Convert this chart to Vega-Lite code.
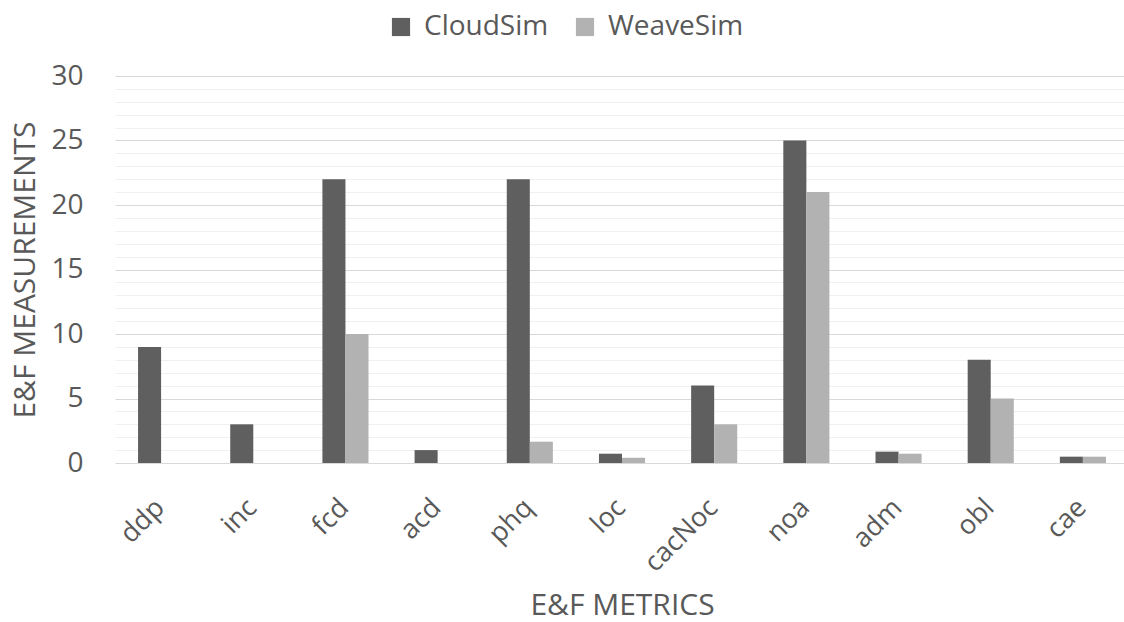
{
  "$schema": "https://vega.github.io/schema/vega-lite/v6.json",
  "width": 1009,
  "height": 387,
  "autosize": "none",
  "padding": {"left": 115, "top": 76, "right": 0, "bottom": 159},
  "background": "white",
  "config": {"view": {"stroke": null}, "font": "Open Sans"},
  "data": {
    "values": [
      {"metric": "ddp", "tool": "CloudSim", "value": 9},
      {"metric": "ddp", "tool": "WeaveSim", "value": 0},
      {"metric": "inc", "tool": "CloudSim", "value": 3},
      {"metric": "inc", "tool": "WeaveSim", "value": 0},
      {"metric": "fcd", "tool": "CloudSim", "value": 22},
      {"metric": "fcd", "tool": "WeaveSim", "value": 10},
      {"metric": "acd", "tool": "CloudSim", "value": 1},
      {"metric": "acd", "tool": "WeaveSim", "value": 0},
      {"metric": "phq", "tool": "CloudSim", "value": 22},
      {"metric": "phq", "tool": "WeaveSim", "value": 1.65},
      {"metric": "loc", "tool": "CloudSim", "value": 0.72},
      {"metric": "loc", "tool": "WeaveSim", "value": 0.41},
      {"metric": "cacNoc", "tool": "CloudSim", "value": 6},
      {"metric": "cacNoc", "tool": "WeaveSim", "value": 3},
      {"metric": "noa", "tool": "CloudSim", "value": 25},
      {"metric": "noa", "tool": "WeaveSim", "value": 21},
      {"metric": "adm", "tool": "CloudSim", "value": 0.88},
      {"metric": "adm", "tool": "WeaveSim", "value": 0.72},
      {"metric": "obl", "tool": "CloudSim", "value": 8},
      {"metric": "obl", "tool": "WeaveSim", "value": 5},
      {"metric": "cae", "tool": "CloudSim", "value": 0.49},
      {"metric": "cae", "tool": "WeaveSim", "value": 0.49}
    ]
  },
  "mark": {"type": "bar"},
  "encoding": {
    "x": {
      "field": "metric",
      "type": "nominal",
      "sort": ["ddp", "inc", "fcd", "acd", "phq", "loc", "cacNoc", "noa", "adm", "obl", "cae"],
      "scale": {"range": [0, 1014], "paddingInner": 0.5, "paddingOuter": 0.25},
      "axis": {
        "title": "E&F METRICS",
        "titleFontSize": 30,
        "titleFontWeight": "normal",
        "titleColor": "#595959",
        "titleY": 142,
        "titleBaseline": "middle",
        "labelAngle": -45,
        "labelFontSize": 27,
        "labelColor": "#595959",
        "labelPadding": 31,
        "labelOffset": -10,
        "ticks": false,
        "domain": false,
        "grid": false
      }
    },
    "xOffset": {"field": "tool", "type": "nominal", "sort": ["CloudSim", "WeaveSim"]},
    "y": {
      "field": "value",
      "type": "quantitative",
      "scale": {"domain": [0, 30], "nice": false},
      "axis": {
        "title": "E&F MEASUREMENTS",
        "titleFontSize": 30,
        "titleFontWeight": "normal",
        "titleColor": "#595959",
        "titleX": -90,
        "titleBaseline": "middle",
        "values": [0, 1, 2, 3, 4, 5, 6, 7, 8, 9, 10, 11, 12, 13, 14, 15, 16, 17, 18, 19, 20, 21, 22, 23, 24, 25, 26, 27, 28, 29, 30],
        "labelExpr": "datum.value % 5 === 0 ? datum.label : ''",
        "labelFontSize": 28,
        "labelColor": "#595959",
        "labelPadding": 32,
        "ticks": false,
        "domain": false,
        "gridColor": {"condition": {"test": "datum.value % 5 === 0", "value": "#d9d9d9"}, "value": "#f0f0f0"},
        "gridWidth": 1.2
      }
    },
    "color": {
      "field": "tool",
      "type": "nominal",
      "scale": {"domain": ["CloudSim", "WeaveSim"], "range": ["#5f5f5f", "#b2b2b2"]},
      "legend": {
        "title": null,
        "orient": "none",
        "direction": "horizontal",
        "legendX": 272,
        "legendY": -63,
        "symbolType": "square",
        "symbolSize": 330,
        "symbolStrokeWidth": 0,
        "labelFontSize": 28,
        "labelColor": "#595959",
        "labelOffset": 9,
        "columnPadding": 22
      }
    }
  }
}
